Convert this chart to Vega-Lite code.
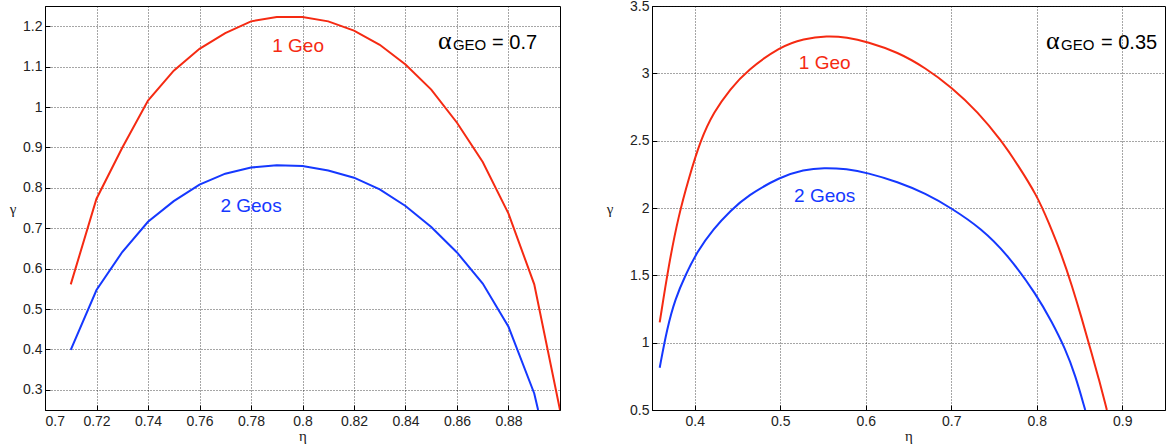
{
  "$schema": "https://vega.github.io/schema/vega-lite/v6.json",
  "padding": {"left": 8, "top": -2, "right": 0, "bottom": 0},
  "background": "white",
  "spacing": 92,
  "bounds": "flush",
  "datasets": {
    "left": [
      {"eta": 0.71, "gamma": 0.561, "series": "1 Geo"},
      {"eta": 0.72, "gamma": 0.773, "series": "1 Geo"},
      {"eta": 0.73, "gamma": 0.899, "series": "1 Geo"},
      {"eta": 0.74, "gamma": 1.016, "series": "1 Geo"},
      {"eta": 0.75, "gamma": 1.09, "series": "1 Geo"},
      {"eta": 0.76, "gamma": 1.144, "series": "1 Geo"},
      {"eta": 0.77, "gamma": 1.183, "series": "1 Geo"},
      {"eta": 0.78, "gamma": 1.212, "series": "1 Geo"},
      {"eta": 0.79, "gamma": 1.223, "series": "1 Geo"},
      {"eta": 0.80, "gamma": 1.223, "series": "1 Geo"},
      {"eta": 0.81, "gamma": 1.212, "series": "1 Geo"},
      {"eta": 0.82, "gamma": 1.189, "series": "1 Geo"},
      {"eta": 0.83, "gamma": 1.154, "series": "1 Geo"},
      {"eta": 0.84, "gamma": 1.105, "series": "1 Geo"},
      {"eta": 0.85, "gamma": 1.043, "series": "1 Geo"},
      {"eta": 0.86, "gamma": 0.961, "series": "1 Geo"},
      {"eta": 0.87, "gamma": 0.864, "series": "1 Geo"},
      {"eta": 0.88, "gamma": 0.736, "series": "1 Geo"},
      {"eta": 0.89, "gamma": 0.561, "series": "1 Geo"},
      {"eta": 0.9, "gamma": 0.25, "series": "1 Geo"},
      {"eta": 0.71, "gamma": 0.399, "series": "2 Geos"},
      {"eta": 0.72, "gamma": 0.547, "series": "2 Geos"},
      {"eta": 0.73, "gamma": 0.641, "series": "2 Geos"},
      {"eta": 0.74, "gamma": 0.716, "series": "2 Geos"},
      {"eta": 0.75, "gamma": 0.767, "series": "2 Geos"},
      {"eta": 0.76, "gamma": 0.808, "series": "2 Geos"},
      {"eta": 0.77, "gamma": 0.835, "series": "2 Geos"},
      {"eta": 0.78, "gamma": 0.85, "series": "2 Geos"},
      {"eta": 0.79, "gamma": 0.856, "series": "2 Geos"},
      {"eta": 0.80, "gamma": 0.854, "series": "2 Geos"},
      {"eta": 0.81, "gamma": 0.843, "series": "2 Geos"},
      {"eta": 0.82, "gamma": 0.825, "series": "2 Geos"},
      {"eta": 0.83, "gamma": 0.796, "series": "2 Geos"},
      {"eta": 0.84, "gamma": 0.755, "series": "2 Geos"},
      {"eta": 0.85, "gamma": 0.703, "series": "2 Geos"},
      {"eta": 0.86, "gamma": 0.64, "series": "2 Geos"},
      {"eta": 0.87, "gamma": 0.563, "series": "2 Geos"},
      {"eta": 0.88, "gamma": 0.456, "series": "2 Geos"},
      {"eta": 0.89, "gamma": 0.291, "series": "2 Geos"},
      {"eta": 0.8915, "gamma": 0.25, "series": "2 Geos"}
    ],
    "right": [
      {"eta": 0.359, "gamma": 1.15, "series": "1 Geo"},
      {"eta": 0.3695, "gamma": 1.576, "series": "1 Geo"},
      {"eta": 0.3812, "gamma": 1.947, "series": "1 Geo"},
      {"eta": 0.393, "gamma": 2.219, "series": "1 Geo"},
      {"eta": 0.4066, "gamma": 2.503, "series": "1 Geo"},
      {"eta": 0.4222, "gamma": 2.713, "series": "1 Geo"},
      {"eta": 0.4418, "gamma": 2.886, "series": "1 Geo"},
      {"eta": 0.4613, "gamma": 3.022, "series": "1 Geo"},
      {"eta": 0.5, "gamma": 3.2, "series": "1 Geo"},
      {"eta": 0.5274, "gamma": 3.258, "series": "1 Geo"},
      {"eta": 0.5547, "gamma": 3.279, "series": "1 Geo"},
      {"eta": 0.5781, "gamma": 3.268, "series": "1 Geo"},
      {"eta": 0.6016, "gamma": 3.235, "series": "1 Geo"},
      {"eta": 0.6375, "gamma": 3.158, "series": "1 Geo"},
      {"eta": 0.67, "gamma": 3.04, "series": "1 Geo"},
      {"eta": 0.7, "gamma": 2.899, "series": "1 Geo"},
      {"eta": 0.7313, "gamma": 2.713, "series": "1 Geo"},
      {"eta": 0.7586, "gamma": 2.5, "series": "1 Geo"},
      {"eta": 0.7781, "gamma": 2.318, "series": "1 Geo"},
      {"eta": 0.8, "gamma": 2.095, "series": "1 Geo"},
      {"eta": 0.8137, "gamma": 1.897, "series": "1 Geo"},
      {"eta": 0.8293, "gamma": 1.65, "series": "1 Geo"},
      {"eta": 0.841, "gamma": 1.427, "series": "1 Geo"},
      {"eta": 0.8527, "gamma": 1.18, "series": "1 Geo"},
      {"eta": 0.8625, "gamma": 0.958, "series": "1 Geo"},
      {"eta": 0.8723, "gamma": 0.74, "series": "1 Geo"},
      {"eta": 0.882, "gamma": 0.5, "series": "1 Geo"},
      {"eta": 0.359, "gamma": 0.814, "series": "2 Geos"},
      {"eta": 0.3676, "gamma": 1.106, "series": "2 Geos"},
      {"eta": 0.3773, "gamma": 1.328, "series": "2 Geos"},
      {"eta": 0.389, "gamma": 1.5, "series": "2 Geos"},
      {"eta": 0.4027, "gamma": 1.675, "series": "2 Geos"},
      {"eta": 0.4222, "gamma": 1.848, "series": "2 Geos"},
      {"eta": 0.4418, "gamma": 1.98, "series": "2 Geos"},
      {"eta": 0.4613, "gamma": 2.09, "series": "2 Geos"},
      {"eta": 0.5, "gamma": 2.232, "series": "2 Geos"},
      {"eta": 0.5274, "gamma": 2.285, "series": "2 Geos"},
      {"eta": 0.5508, "gamma": 2.3, "series": "2 Geos"},
      {"eta": 0.5781, "gamma": 2.29, "series": "2 Geos"},
      {"eta": 0.6016, "gamma": 2.262, "series": "2 Geos"},
      {"eta": 0.6375, "gamma": 2.194, "series": "2 Geos"},
      {"eta": 0.67, "gamma": 2.108, "series": "2 Geos"},
      {"eta": 0.7, "gamma": 2.0, "series": "2 Geos"},
      {"eta": 0.7352, "gamma": 1.848, "series": "2 Geos"},
      {"eta": 0.7664, "gamma": 1.65, "series": "2 Geos"},
      {"eta": 0.8, "gamma": 1.353, "series": "2 Geos"},
      {"eta": 0.8176, "gamma": 1.155, "series": "2 Geos"},
      {"eta": 0.8332, "gamma": 0.957, "series": "2 Geos"},
      {"eta": 0.845, "gamma": 0.76, "series": "2 Geos"},
      {"eta": 0.8567, "gamma": 0.5, "series": "2 Geos"}
    ],
    "leftLabels": [
      {"eta": 0.7983, "gamma": 1.136, "text": "1 Geo", "series": "1 Geo"},
      {"eta": 0.78, "gamma": 0.741, "text": "2 Geos", "series": "2 Geos"}
    ],
    "rightLabels": [
      {"eta": 0.552, "gamma": 3.035, "text": "1 Geo", "series": "1 Geo"},
      {"eta": 0.552, "gamma": 2.045, "text": "2 Geos", "series": "2 Geos"}
    ],
    "leftAnno": [
      {"eta": 0.8526, "gamma": 1.143, "text": "α", "part": "alpha"},
      {"eta": 0.8584, "gamma": 1.1407, "text": "GEO", "part": "sub"},
      {"eta": 0.8736, "gamma": 1.143, "text": "= 0.7", "part": "eq"}
    ],
    "rightAnno": [
      {"eta": 0.8108, "gamma": 3.181, "text": "α", "part": "alpha"},
      {"eta": 0.8284, "gamma": 3.173, "text": "GEO", "part": "sub"},
      {"eta": 0.8751, "gamma": 3.181, "text": "= 0.35", "part": "eq"}
    ]
  },
  "config": {
    "view": {"stroke": "#000", "strokeWidth": 1},
    "axis": {
      "grid": true, "gridColor": "#111", "gridDash": [1, 2], "gridOpacity": 0.75, "gridWidth": 1,
      "domain": true, "domainColor": "#000", "domainWidth": 1,
      "ticks": true, "tickSize": -5, "tickColor": "#000",
      "labelFont": "Liberation Sans", "labelFontSize": 14, "labelColor": "#222",
      "titleFont": "Liberation Serif", "titleFontSize": 15, "titleFontWeight": "normal", "titleColor": "#222"
    }
  },
  "hconcat": [
    {
      "width": 515, "height": 404,
      "layer": [
        {
          "data": {"name": "left"},
          "mark": {"type": "line", "strokeWidth": 2, "clip": true},
          "encoding": {
            "x": {"field": "eta", "type": "quantitative", "scale": {"domain": [0.7, 0.9], "nice": false, "zero": false},
                  "axis": {"values": [0.7, 0.72, 0.74, 0.76, 0.78, 0.8, 0.82, 0.84, 0.86, 0.88], "format": "~g", "title": "η", "labelPadding": 9, "titlePadding": 0}},
            "y": {"field": "gamma", "type": "quantitative", "scale": {"domain": [0.25, 1.25], "nice": false, "zero": false},
                  "axis": {"values": [0.3, 0.4, 0.5, 0.6, 0.7, 0.8, 0.9, 1, 1.1, 1.2], "format": "~g", "title": "γ", "titleAngle": 0, "titleAlign": "center", "titleBaseline": "middle", "labelPadding": 8, "titlePadding": 10}},
            "color": {"field": "series", "type": "nominal", "scale": {"domain": ["1 Geo", "2 Geos"], "range": ["#f52a12", "#1538ff"]}, "legend": null},
            "detail": {"field": "series"}
          }
        },
        {
          "data": {"name": "leftLabels"},
          "mark": {"type": "text", "font": "Liberation Sans", "fontSize": 19, "align": "center", "baseline": "alphabetic"},
          "encoding": {
            "x": {"field": "eta", "type": "quantitative"},
            "y": {"field": "gamma", "type": "quantitative"},
            "text": {"field": "text"},
            "color": {"field": "series", "type": "nominal", "legend": null}
          }
        },
        {
          "data": {"name": "leftAnno"},
          "transform": [{"filter": "datum.part === 'alpha'"}],
          "mark": {"type": "text", "font": "Liberation Serif", "fontSize": 26, "align": "left", "baseline": "alphabetic", "color": "#000"},
          "encoding": {"x": {"field": "eta", "type": "quantitative"}, "y": {"field": "gamma", "type": "quantitative"}, "text": {"field": "text"}}
        },
        {
          "data": {"name": "leftAnno"},
          "transform": [{"filter": "datum.part === 'sub'"}],
          "mark": {"type": "text", "font": "Liberation Sans", "fontSize": 15, "align": "left", "baseline": "alphabetic", "color": "#000"},
          "encoding": {"x": {"field": "eta", "type": "quantitative"}, "y": {"field": "gamma", "type": "quantitative"}, "text": {"field": "text"}}
        },
        {
          "data": {"name": "leftAnno"},
          "transform": [{"filter": "datum.part === 'eq'"}],
          "mark": {"type": "text", "font": "Liberation Sans", "fontSize": 20, "align": "left", "baseline": "alphabetic", "color": "#000"},
          "encoding": {"x": {"field": "eta", "type": "quantitative"}, "y": {"field": "gamma", "type": "quantitative"}, "text": {"field": "text"}}
        }
      ]
    },
    {
      "width": 513, "height": 404,
      "layer": [
        {
          "data": {"name": "right"},
          "mark": {"type": "line", "strokeWidth": 2, "clip": true, "interpolate": "basis"},
          "encoding": {
            "x": {"field": "eta", "type": "quantitative", "scale": {"domain": [0.35, 0.95], "nice": false, "zero": false},
                  "axis": {"values": [0.4, 0.5, 0.6, 0.7, 0.8, 0.9], "format": "~g", "title": "η", "labelPadding": 9, "titlePadding": 0}},
            "y": {"field": "gamma", "type": "quantitative", "scale": {"domain": [0.5, 3.5], "nice": false, "zero": false},
                  "axis": {"values": [0.5, 1, 1.5, 2, 2.5, 3, 3.5], "format": "~g", "title": "γ", "titleAngle": 0, "titleAlign": "center", "titleBaseline": "middle", "labelPadding": 8, "titlePadding": 20}},
            "color": {"field": "series", "type": "nominal", "scale": {"domain": ["1 Geo", "2 Geos"], "range": ["#f52a12", "#1538ff"]}, "legend": null},
            "detail": {"field": "series"}
          }
        },
        {
          "data": {"name": "rightLabels"},
          "mark": {"type": "text", "font": "Liberation Sans", "fontSize": 19, "align": "center", "baseline": "alphabetic"},
          "encoding": {
            "x": {"field": "eta", "type": "quantitative"},
            "y": {"field": "gamma", "type": "quantitative"},
            "text": {"field": "text"},
            "color": {"field": "series", "type": "nominal", "legend": null}
          }
        },
        {
          "data": {"name": "rightAnno"},
          "transform": [{"filter": "datum.part === 'alpha'"}],
          "mark": {"type": "text", "font": "Liberation Serif", "fontSize": 26, "align": "left", "baseline": "alphabetic", "color": "#000"},
          "encoding": {"x": {"field": "eta", "type": "quantitative"}, "y": {"field": "gamma", "type": "quantitative"}, "text": {"field": "text"}}
        },
        {
          "data": {"name": "rightAnno"},
          "transform": [{"filter": "datum.part === 'sub'"}],
          "mark": {"type": "text", "font": "Liberation Sans", "fontSize": 15, "align": "left", "baseline": "alphabetic", "color": "#000"},
          "encoding": {"x": {"field": "eta", "type": "quantitative"}, "y": {"field": "gamma", "type": "quantitative"}, "text": {"field": "text"}}
        },
        {
          "data": {"name": "rightAnno"},
          "transform": [{"filter": "datum.part === 'eq'"}],
          "mark": {"type": "text", "font": "Liberation Sans", "fontSize": 20, "align": "left", "baseline": "alphabetic", "color": "#000"},
          "encoding": {"x": {"field": "eta", "type": "quantitative"}, "y": {"field": "gamma", "type": "quantitative"}, "text": {"field": "text"}}
        }
      ]
    }
  ]
}
